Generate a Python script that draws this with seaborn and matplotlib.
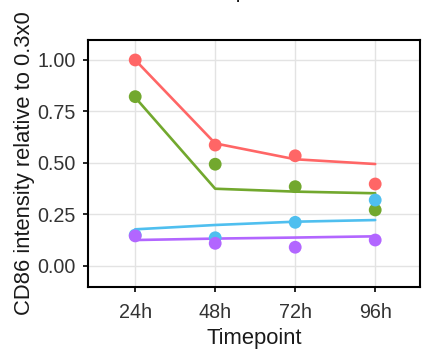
import matplotlib
matplotlib.use("Agg")
import matplotlib.pyplot as plt
import seaborn as sns
import pandas as pd

timepoints = ["24h", "48h", "72h", "96h"]
groups = ["A", "B", "C", "D"]
colors = ["#FF6666", "#72A82E", "#4FBFEF", "#B266FF"]

# observed points
obs_A = [1.00, 0.587, 0.535, 0.398]
obs_B = [0.822, 0.494, 0.385, 0.272]
obs_C = [0.150, 0.137, 0.212, 0.320]
obs_D = [0.146, 0.110, 0.091, 0.126]

# fitted lines
fit_A = [1.00, 0.595, 0.518, 0.495]
fit_B = [0.818, 0.375, 0.361, 0.353]
fit_C = [0.178, 0.199, 0.215, 0.223]
fit_D = [0.126, 0.133, 0.138, 0.144]

obs = [obs_A, obs_B, obs_C, obs_D]
fit = [fit_A, fit_B, fit_C, fit_D]

rows_obs, rows_fit = [], []
for g, o, f in zip(groups, obs, fit):
    for t, vo, vf in zip(timepoints, o, f):
        rows_obs.append({"Timepoint": t, "value": vo, "group": g})
        rows_fit.append({"Timepoint": t, "value": vf, "group": g})
df_obs = pd.DataFrame(rows_obs)
df_fit = pd.DataFrame(rows_fit)

sns.set_theme(style="white")
plt.rcParams["font.family"] = ["Liberation Sans", "DejaVu Sans"]

fig = plt.figure(figsize=(4.22, 3.53), dpi=100)
ax = fig.add_axes([88/422, 1 - 287/353, (420 - 88)/422, (287 - 40)/353])

pal = dict(zip(groups, colors))
sns.lineplot(data=df_fit, x="Timepoint", y="value", hue="group", palette=pal,
             linewidth=1.9, legend=False, ax=ax, sort=False, zorder=2)
sns.scatterplot(data=df_obs, x="Timepoint", y="value", hue="group", palette=pal,
                s=85, edgecolor="none", legend=False, ax=ax, zorder=3)

ax.set_xlim(-0.59, 3.56)
ax.set_ylim(-0.102, 1.097)
ax.set_yticks([0.0, 0.25, 0.5, 0.75, 1.0])
ax.set_yticklabels(["0.00", "0.25", "0.50", "0.75", "1.00"])
ax.grid(True, color="#E3E3E3", linewidth=1.0)
ax.set_axisbelow(True)
for s in ax.spines.values():
    s.set_color("black")
    s.set_linewidth(1.5)
ax.tick_params(axis="both", which="major", direction="out", length=3.3, width=1.2,
               color="black", labelsize=14.2, labelcolor="#333333",
               bottom=True, left=True)
ax.tick_params(axis="x", pad=8.5)
ax.tick_params(axis="y", pad=5.5)
ax.set_xlabel("Timepoint", fontsize=15.8, color="#1a1a1a", labelpad=4)
ax.set_ylabel("CD86 intensity relative to 0.3x0", fontsize=15.8, color="#1a1a1a", labelpad=2)

fig.text(0.65, 1 + 3.0/353, "Experiment 1", ha="center", va="baseline",
         fontsize=15.8, color="#1a1a1a")

fig.savefig("out.png", dpi=100)
